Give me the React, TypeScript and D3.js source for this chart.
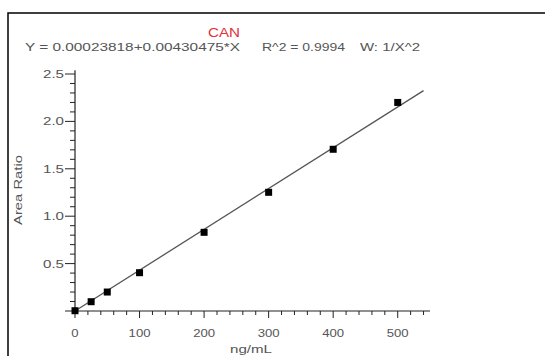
import React from "react";
import * as d3 from "d3";

const concentrations = [0, 25, 50, 100, 200, 300, 400, 500];
const areaRatios = [0.003, 0.098, 0.2, 0.404, 0.83, 1.252, 1.706, 2.2];
const xMajorTicks = [0, 100, 200, 300, 400, 500];
const yMajorTicks = [0.5, 1.0, 1.5, 2.0, 2.5];
const intercept = 0.00023818;
const slope = 0.00430475;
const titleText = "CAN";
const equationParts = ["Y = 0.00023818+0.00430475*X", "R^2 = 0.9994", "W: 1/X^2"];
const xLabel = "ng/mL";
const yLabel = "Area Ratio";

export default function App() {
  const W = 545, H = 356;
  const x = d3.scaleLinear().domain([0, 550]).range([75, 430]);
  const y = d3.scaleLinear().domain([0, 2.5]).range([311, 74]);
  const xMinor = d3.range(0, 541, 20);
  const yMinor = d3.range(0, 25.01, 1).map((v) => v / 10);
  const line = d3.line<number>().x((d) => x(d)).y((d) => y(intercept + slope * d));
  const font = "Liberation Sans, Arial, sans-serif";
  const txt = "#555";
  const eqPos = [
    { x: 25, len: 215 },
    { x: 262, len: 83 },
    { x: 360, len: 60 },
  ];
  return (
    <svg width={W} height={H} style={{ position: "absolute", left: 0, top: 0 }}>
      <rect x={0} y={0} width={W} height={H} fill="#fff" />
      <rect x={8} y={13} width={W + 10} height={H + 10} fill="none" stroke="#000" strokeWidth={1.5} />
      <text x={208} y={37} textLength={32} lengthAdjust="spacingAndGlyphs" fontFamily={font} fontSize={12.5} fill="#e0303a">{titleText}</text>
      {equationParts.map((t, i) => (
        <text key={"eq" + i} x={eqPos[i].x} y={51} textLength={eqPos[i].len} lengthAdjust="spacingAndGlyphs" fontFamily={font} fontSize={11.5} fill={txt}>{t}</text>
      ))}
      {/* axes */}
      <line x1={x(0)} x2={x(0)} y1={y(0)} y2={y(2.54)} stroke="#222" strokeWidth={1.2} />
      <line x1={x(0)} x2={x(550)} y1={y(0)} y2={y(0)} stroke="#222" strokeWidth={1.2} />
      {yMinor.map((v, i) => {
        const major = Math.abs(v * 2 - Math.round(v * 2)) < 1e-6;
        return <line key={"ym" + i} x1={x(0) - (major ? 10 : 5)} x2={x(0)} y1={y(v)} y2={y(v)} stroke="#222" strokeWidth={1} />;
      })}
      {xMinor.map((v, i) => {
        const major = v % 100 === 0;
        return <line key={"xm" + i} x1={x(v)} x2={x(v)} y1={y(0)} y2={y(0) + (major ? 7 : 4)} stroke="#222" strokeWidth={1} />;
      })}
      {yMajorTicks.map((v) => (
        <text key={"yl" + v} x={x(0) - 11 - 21} y={y(v) + 4} textLength={21} lengthAdjust="spacingAndGlyphs" fontFamily={font} fontSize={11.5} fill={txt}>{v.toFixed(1)}</text>
      ))}
      {xMajorTicks.map((v) => {
        const w = String(v).length * 7.3;
        return (
          <text key={"xl" + v} x={x(v) - w / 2} y={y(0) + 26} textLength={w} lengthAdjust="spacingAndGlyphs" fontFamily={font} fontSize={11.5} fill={txt}>{v}</text>
        );
      })}
      <text x={230} y={353} textLength={42} lengthAdjust="spacingAndGlyphs" fontFamily={font} fontSize={11.5} fill={txt}>{xLabel}</text>
      <text transform={`translate(22,225) rotate(-90)`} textLength={70} lengthAdjust="spacingAndGlyphs" fontFamily={font} fontSize={11.5} fill={txt}>{yLabel}</text>
      <path d={line([0, 540]) || ""} stroke="#555" strokeWidth={1.3} fill="none" />
      {concentrations.map((c, i) => (
        <rect key={"p" + i} x={x(c) - 3.5} y={y(areaRatios[i]) - 3.5} width={7} height={7} fill="#000" />
      ))}
    </svg>
  );
}
